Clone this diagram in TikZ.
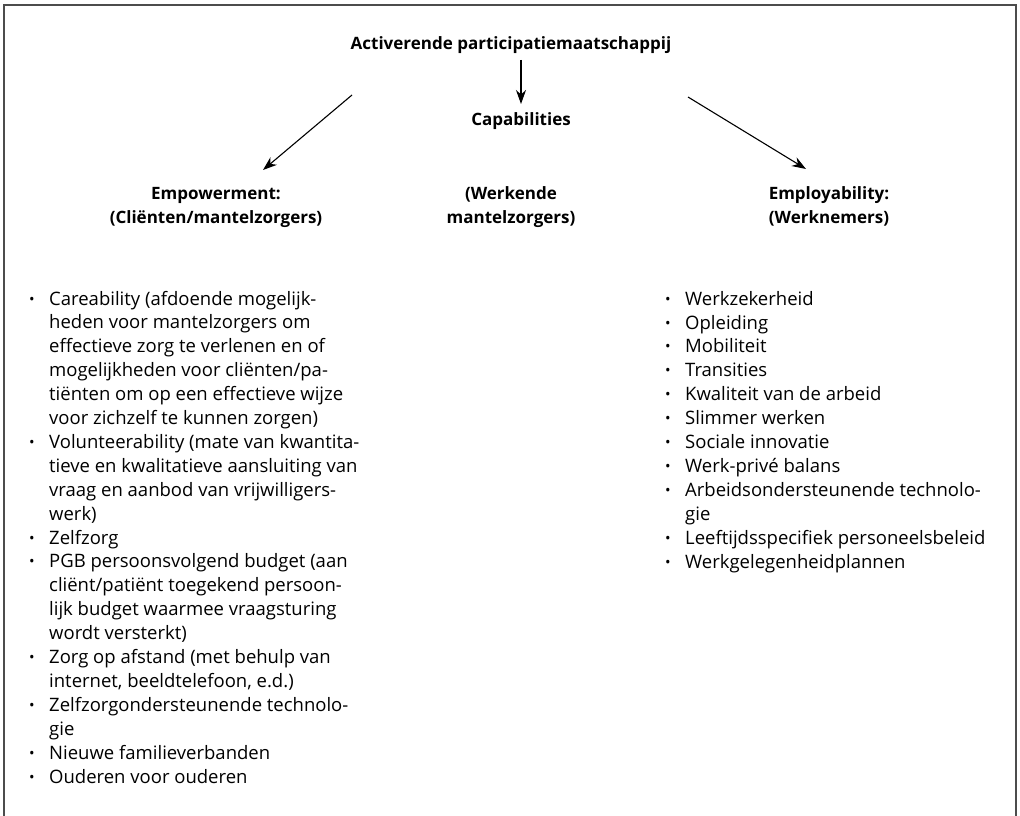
\documentclass[tikz,border=0pt]{standalone}
\usepackage{fontspec}
\setmainfont{Open Sans}
\usetikzlibrary{arrows.meta}
\newcommand{\itm}[1]{\makebox[20pt][l]{\raisebox{1pt}{\scalebox{0.8}{•}}}#1}
\newcommand{\cnt}[1]{\hspace*{20pt}#1}
\begin{document}
\begin{tikzpicture}[x=1pt,y=-1pt,
  frame/.style={draw=black!70,line width=2pt},
  head/.style={font=\fontsize{17}{24}\selectfont\bfseries,align=center,inner sep=0pt,anchor=base},
  lst/.style={font=\fontsize{18.5}{23.9}\selectfont,align=left,inner sep=0pt,anchor=base west},
  arr/.style={line width=1.1pt,-{Stealth[length=14pt,width=10pt]}}]
\useasboundingbox (0,0) rectangle (1020,816);
\draw[frame] (4,817) -- (4,5) -- (1016,5) -- (1016,817);
\node[head] (top) at (511,49) {Activerende participatiemaatschappij};
\node[head] (cap) at (521,125) {Capabilities};
\node[head] (emp) at (216,223) {Empowerment:\\(Cliënten/mantelzorgers)};
\node[head] (wm) at (511,223) {(Werkende\\mantelzorgers)};
\node[head] (emb) at (829,223) {Employability:\\(Werknemers)};
\coordinate (a1) at (521,60); \coordinate (a1e) at (521,104);
\coordinate (a2) at (352,95); \coordinate (a2e) at (263,170);
\coordinate (a3) at (688,97); \coordinate (a3e) at (806,169);
\draw[arr] (a1) -- (a1e);
\draw[arr] (a2) -- (a2e);
\draw[arr] (a3) -- (a3e);
\node[lst] (left) at (29,783) {%
\itm{Careability (afdoende mogelijk-}\\
\cnt{heden voor mantelzorgers om}\\
\cnt{effectieve zorg te verlenen en of}\\
\cnt{mogelijkheden voor cliënten/pa-}\\
\cnt{tiënten om op een effectieve wijze}\\
\cnt{voor zichzelf te kunnen zorgen)}\\
\itm{Volunteerability (mate van kwantita-}\\
\cnt{tieve en kwalitatieve aansluiting van}\\
\cnt{vraag en aanbod van vrijwilligers-}\\
\cnt{werk)}\\
\itm{Zelfzorg}\\
\itm{PGB persoonsvolgend budget (aan}\\
\cnt{cliënt/patiënt toegekend persoon-}\\
\cnt{lijk budget waarmee vraagsturing}\\
\cnt{wordt versterkt)}\\
\itm{Zorg op afstand (met behulp van}\\
\cnt{internet, beeldtelefoon, e.d.)}\\
\itm{Zelfzorgondersteunende technolo-}\\
\cnt{gie}\\
\itm{Nieuwe familieverbanden}\\
\itm{Ouderen voor ouderen}};
\node[lst] (right) at (665,568) {%
\itm{Werkzekerheid}\\
\itm{Opleiding}\\
\itm{Mobiliteit}\\
\itm{Transities}\\
\itm{Kwaliteit van de arbeid}\\
\itm{Slimmer werken}\\
\itm{Sociale innovatie}\\
\itm{Werk-privé balans}\\
\itm{Arbeidsondersteunende technolo-}\\
\cnt{gie}\\
\itm{Leeftijdsspecifiek personeelsbeleid}\\
\itm{Werkgelegenheidplannen}};
\end{tikzpicture}
\end{document}
